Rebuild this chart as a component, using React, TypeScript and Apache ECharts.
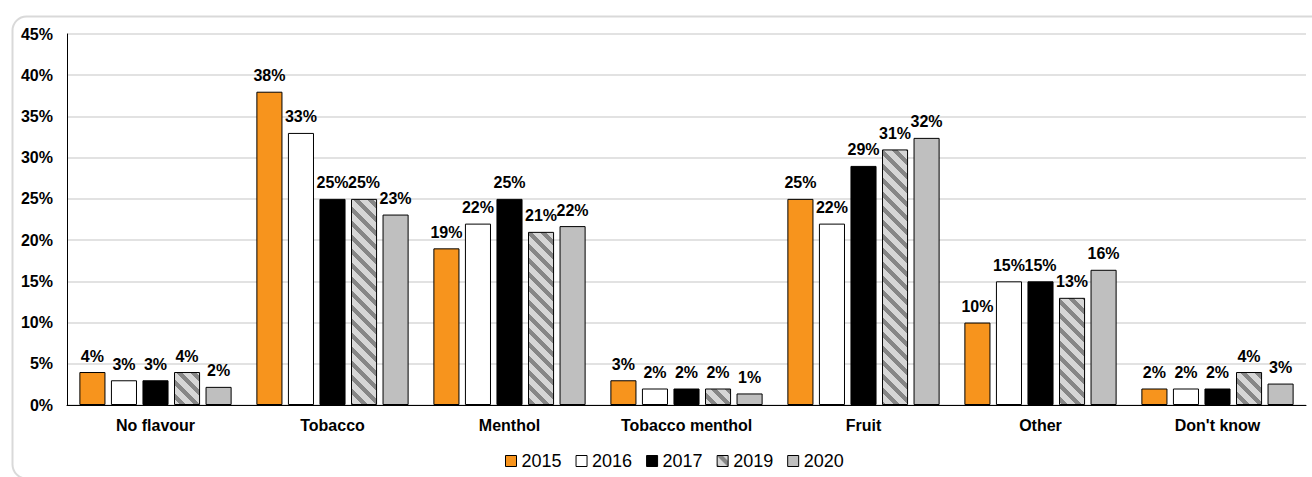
import React, { useEffect, useRef } from "react";
import * as echarts from "echarts";

const categories = ["No flavour", "Tobacco", "Menthol", "Tobacco menthol", "Fruit", "Other", "Don't know"];
const years = ["2015", "2016", "2017", "2019", "2020"];
const v2015 = [4, 38, 19, 3, 25, 10, 2];
const v2016 = [3, 33, 22, 2, 22, 15, 2];
const v2017 = [3, 25, 25, 2, 29, 15, 2];
const v2019 = [4, 25, 21, 2, 31, 13, 4];
const v2020 = [2.2, 23.1, 21.7, 1.4, 32.4, 16.4, 2.6];
const yTicks = { min: 0, max: 45, interval: 5 };

const FONT = "'Liberation Sans', Arial, sans-serif";

function makeHatch(): HTMLCanvasElement {
  const N = 14;
  const w = 6;
  const c = document.createElement("canvas");
  c.width = N;
  c.height = N;
  const ctx = c.getContext("2d")!;
  const img = ctx.createImageData(N, N);
  for (let y = 0; y < N; y++) {
    for (let x = 0; x < N; x++) {
      const m = (((x - y) % N) + N) % N;
      const dark = m < w;
      const i = (y * N + x) * 4;
      const v = dark ? 0x86 : 0xd6;
      img.data[i] = v;
      img.data[i + 1] = v;
      img.data[i + 2] = v;
      img.data[i + 3] = 255;
    }
  }
  ctx.putImageData(img, 0, 0);
  return c;
}

export default function App() {
  const ref = useRef<HTMLDivElement>(null);
  useEffect(() => {
    if (!ref.current) return;
    const chart = echarts.init(ref.current, undefined, { renderer: "svg" });
    const hatch = makeHatch();
    const fills: any[] = [
      "#f7941d",
      "#ffffff",
      "#000000",
      { image: hatch, repeat: "repeat" },
      "#bfbfbf",
    ];
    const datasets = [v2015, v2016, v2017, v2019, v2020];
    const series = years.map((y, i) => ({
      name: y,
      type: "bar",
      data: datasets[i],
      barGap: "21%",
      barCategoryGap: "14%",
      itemStyle: { color: fills[i], borderColor: "#000", borderWidth: 1 },
      label: {
        show: true,
        position: "top",
        distance: 8,
        formatter: (p: any) => Math.round(p.value) + "%",
        fontFamily: FONT,
        fontWeight: "bold",
        fontSize: 16,
        color: "#000",
      },
    }));
    chart.setOption({
      animation: false,
      backgroundColor: "#fff",
      graphic: [
        {
          type: "rect",
          left: 10,
          top: 14,
          shape: { width: 1330, height: 462, r: 14 },
          style: { fill: "none", stroke: "#d9d9d9", lineWidth: 2 },
          silent: true,
        },
      ],
      grid: { left: 67, right: 6, top: 34, bottom: 72, containLabel: false },
      legend: {
        bottom: 2,
        left: 500,
        itemWidth: 11,
        itemHeight: 11,
        itemGap: 14,
        icon: "rect",
        textStyle: { fontFamily: FONT, fontSize: 18, color: "#000" },
        data: years.map((y) => ({ name: y, itemStyle: { borderColor: "#000", borderWidth: 1 } })),
      },
      xAxis: {
        type: "category",
        data: categories,
        axisLine: { show: true, lineStyle: { color: "#000", width: 1 } },
        axisTick: { show: false },
        axisLabel: {
          fontFamily: FONT,
          fontWeight: "bold",
          fontSize: 16,
          color: "#000",
          margin: 12,
          interval: 0,
        },
      },
      yAxis: {
        type: "value",
        min: yTicks.min,
        max: yTicks.max,
        interval: yTicks.interval,
        axisLine: { show: true, lineStyle: { color: "#000", width: 1 } },
        axisTick: { show: false },
        splitLine: { show: true, lineStyle: { color: "#d9d9d9", width: 1.5 } },
        axisLabel: {
          formatter: "{value}%",
          fontFamily: FONT,
          fontWeight: "bold",
          fontSize: 16,
          color: "#000",
          margin: 14,
        },
      },
      series,
    });
    return () => chart.dispose();
  }, []);
  return (
    <div
      ref={ref}
      style={{ position: "fixed", left: 0, top: 0, width: 1312, height: 477 }}
    />
  );
}
